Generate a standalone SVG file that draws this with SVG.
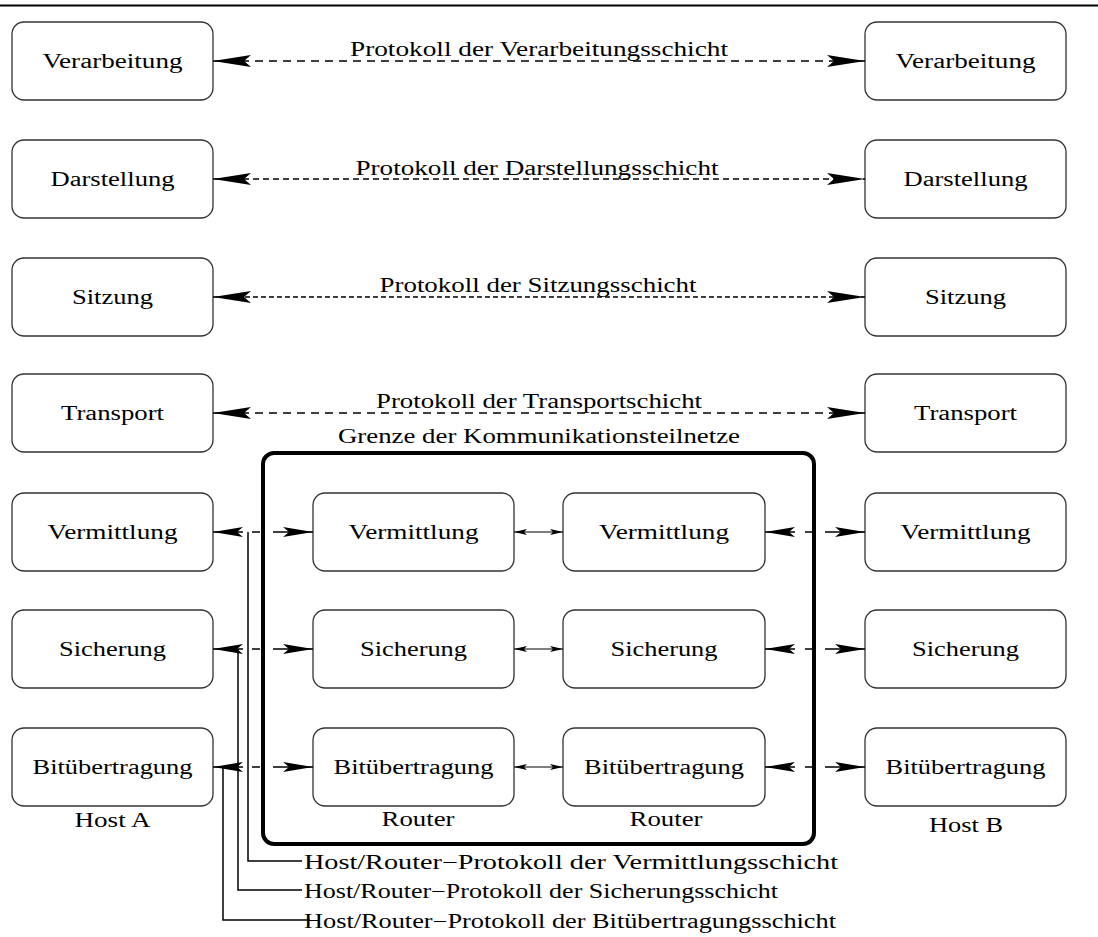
<svg xmlns="http://www.w3.org/2000/svg" width="1098" height="937" viewBox="0 0 1098 937">
  <defs>
    <style>
      .box { fill: #ffffff; stroke: #333333; stroke-width: 1.3; }
      .lbl { font-family: "Liberation Serif", "Times New Roman", serif; font-size: 20px; fill: #000000; }
      .mid { text-anchor: middle; }
      .proto { fill: none; stroke: #000000; stroke-width: 1.5; stroke-dasharray: 8 6; }
      .proto2 { fill: none; stroke: #000000; stroke-width: 1.5; stroke-dasharray: 6 4; }
      .proto3 { fill: none; stroke: #000000; stroke-width: 1.5; stroke-dasharray: 5 3; }
      .hop { fill: none; stroke: #000000; stroke-width: 1.5; }
      .peer { fill: none; stroke: #000000; stroke-width: 1.1; }
      .lead { fill: none; stroke: #000000; stroke-width: 1.5; }
    </style>
    <!-- notched filled arrowheads: large, medium, small -->
    <marker id="ahL" markerUnits="userSpaceOnUse" markerWidth="40" markerHeight="14" refX="0" refY="0" viewBox="-40 -7 40 14" orient="auto-start-reverse" overflow="visible">
      <path d="M0,0 L-38,-6 L-31,0 L-38,6 Z" fill="#000000"/>
    </marker>
    <marker id="ahM" markerUnits="userSpaceOnUse" markerWidth="32" markerHeight="12" refX="0" refY="0" viewBox="-32 -6 32 12" orient="auto-start-reverse" overflow="visible">
      <path d="M0,0 L-30,-5 L-24,0 L-30,5 Z" fill="#000000"/>
    </marker>
    <marker id="ahS" markerUnits="userSpaceOnUse" markerWidth="14" markerHeight="8" refX="0" refY="0" viewBox="-14 -4 14 8" orient="auto-start-reverse" overflow="visible">
      <path d="M0,0 L-13,-3 L-10,0 L-13,3 Z" fill="#000000"/>
    </marker>
  </defs>

  <rect x="0" y="0" width="1098" height="937" fill="#ffffff"/>
  <line x1="0" y1="5.5" x2="1098" y2="5.5" stroke="#000000" stroke-width="2"/>

  <!-- communication subnet boundary -->
  <g id="subnet">
    <rect x="263" y="453" width="551" height="391" rx="11" ry="11" fill="none" stroke="#000000" stroke-width="4"/>
    <text class="lbl mid" x="539" y="443" textLength="402" lengthAdjust="spacingAndGlyphs">Grenze der Kommunikationsteilnetze</text>
  </g>

  <!-- Host A stack -->
  <g id="hostA">
    <g id="a-verarbeitung"><rect class="box" x="12" y="22" width="201" height="78" rx="12"/><text class="lbl mid" x="112.5" y="68" textLength="140" lengthAdjust="spacingAndGlyphs">Verarbeitung</text></g>
    <g id="a-darstellung"><rect class="box" x="12" y="140" width="201" height="78" rx="12"/><text class="lbl mid" x="112.5" y="186" textLength="124" lengthAdjust="spacingAndGlyphs">Darstellung</text></g>
    <g id="a-sitzung"><rect class="box" x="12" y="258" width="201" height="78" rx="12"/><text class="lbl mid" x="112.5" y="304" textLength="81" lengthAdjust="spacingAndGlyphs">Sitzung</text></g>
    <g id="a-transport"><rect class="box" x="12" y="374" width="201" height="78" rx="12"/><text class="lbl mid" x="112.5" y="420" textLength="103" lengthAdjust="spacingAndGlyphs">Transport</text></g>
    <g id="a-vermittlung"><rect class="box" x="12" y="493" width="201" height="78" rx="12"/><text class="lbl mid" x="112.5" y="539" textLength="130" lengthAdjust="spacingAndGlyphs">Vermittlung</text></g>
    <g id="a-sicherung"><rect class="box" x="12" y="610" width="201" height="78" rx="12"/><text class="lbl mid" x="112.5" y="656" textLength="107" lengthAdjust="spacingAndGlyphs">Sicherung</text></g>
    <g id="a-bit"><rect class="box" x="12" y="728" width="201" height="78" rx="12"/><text class="lbl mid" x="112.5" y="774" textLength="160" lengthAdjust="spacingAndGlyphs">Bitübertragung</text></g>
    <text class="lbl mid" x="112.5" y="827" textLength="76" lengthAdjust="spacingAndGlyphs">Host A</text>
  </g>

  <!-- first router -->
  <g id="router1">
    <g id="r1-vermittlung"><rect class="box" x="313" y="493" width="201" height="78" rx="12"/><text class="lbl mid" x="413.5" y="539" textLength="130" lengthAdjust="spacingAndGlyphs">Vermittlung</text></g>
    <g id="r1-sicherung"><rect class="box" x="313" y="610" width="201" height="78" rx="12"/><text class="lbl mid" x="413.5" y="656" textLength="107" lengthAdjust="spacingAndGlyphs">Sicherung</text></g>
    <g id="r1-bit"><rect class="box" x="313" y="728" width="201" height="78" rx="12"/><text class="lbl mid" x="413.5" y="774" textLength="160" lengthAdjust="spacingAndGlyphs">Bitübertragung</text></g>
    <text class="lbl mid" x="418" y="826" textLength="73" lengthAdjust="spacingAndGlyphs">Router</text>
  </g>

  <!-- second router -->
  <g id="router2">
    <g id="r2-vermittlung"><rect class="box" x="563" y="493" width="202" height="78" rx="12"/><text class="lbl mid" x="664" y="539" textLength="130" lengthAdjust="spacingAndGlyphs">Vermittlung</text></g>
    <g id="r2-sicherung"><rect class="box" x="563" y="610" width="202" height="78" rx="12"/><text class="lbl mid" x="664" y="656" textLength="107" lengthAdjust="spacingAndGlyphs">Sicherung</text></g>
    <g id="r2-bit"><rect class="box" x="563" y="728" width="202" height="78" rx="12"/><text class="lbl mid" x="664" y="774" textLength="160" lengthAdjust="spacingAndGlyphs">Bitübertragung</text></g>
    <text class="lbl mid" x="666" y="826" textLength="73" lengthAdjust="spacingAndGlyphs">Router</text>
  </g>

  <!-- Host B stack -->
  <g id="hostB">
    <g id="b-verarbeitung"><rect class="box" x="865" y="22" width="201" height="78" rx="12"/><text class="lbl mid" x="965.5" y="68" textLength="140" lengthAdjust="spacingAndGlyphs">Verarbeitung</text></g>
    <g id="b-darstellung"><rect class="box" x="865" y="140" width="201" height="78" rx="12"/><text class="lbl mid" x="965.5" y="186" textLength="124" lengthAdjust="spacingAndGlyphs">Darstellung</text></g>
    <g id="b-sitzung"><rect class="box" x="865" y="258" width="201" height="78" rx="12"/><text class="lbl mid" x="965.5" y="304" textLength="81" lengthAdjust="spacingAndGlyphs">Sitzung</text></g>
    <g id="b-transport"><rect class="box" x="865" y="374" width="201" height="78" rx="12"/><text class="lbl mid" x="965.5" y="420" textLength="103" lengthAdjust="spacingAndGlyphs">Transport</text></g>
    <g id="b-vermittlung"><rect class="box" x="865" y="493" width="201" height="78" rx="12"/><text class="lbl mid" x="965.5" y="539" textLength="130" lengthAdjust="spacingAndGlyphs">Vermittlung</text></g>
    <g id="b-sicherung"><rect class="box" x="865" y="610" width="201" height="78" rx="12"/><text class="lbl mid" x="965.5" y="656" textLength="107" lengthAdjust="spacingAndGlyphs">Sicherung</text></g>
    <g id="b-bit"><rect class="box" x="865" y="728" width="201" height="78" rx="12"/><text class="lbl mid" x="965.5" y="774" textLength="160" lengthAdjust="spacingAndGlyphs">Bitübertragung</text></g>
    <text class="lbl mid" x="966" y="832" textLength="74" lengthAdjust="spacingAndGlyphs">Host B</text>
  </g>

  <!-- connectors -->
  <g id="connectors">
    <!-- end-to-end peer protocols -->
    <path class="proto" d="M213,61 H865" marker-start="url(#ahL)" marker-end="url(#ahL)"/>
    <path class="proto2" d="M213,179 H865" marker-start="url(#ahL)" marker-end="url(#ahL)"/>
    <path class="proto3" d="M213,297 H865" marker-start="url(#ahL)" marker-end="url(#ahL)"/>
    <path class="proto" d="M213,413 H865" marker-start="url(#ahL)" marker-end="url(#ahL)"/>

    <!-- host to router hops -->
    <path class="hop" d="M213,532 H313" stroke-dasharray="30 9 8 13 40 100" marker-start="url(#ahM)" marker-end="url(#ahM)"/>
    <path class="hop" d="M213,649 H313" stroke-dasharray="30 9 8 13 40 100" marker-start="url(#ahM)" marker-end="url(#ahM)"/>
    <path class="hop" d="M213,767 H313" stroke-dasharray="30 9 8 13 40 100" marker-start="url(#ahM)" marker-end="url(#ahM)"/>
    <path class="hop" d="M765,532 H865" stroke-dasharray="30 10 7 13 40 100" marker-start="url(#ahM)" marker-end="url(#ahM)"/>
    <path class="hop" d="M765,649 H865" stroke-dasharray="30 10 7 13 40 100" marker-start="url(#ahM)" marker-end="url(#ahM)"/>
    <path class="hop" d="M765,767 H865" stroke-dasharray="30 10 7 13 40 100" marker-start="url(#ahM)" marker-end="url(#ahM)"/>

    <!-- router to router -->
    <path class="peer" d="M514,532 H563" marker-start="url(#ahS)" marker-end="url(#ahS)"/>
    <path class="peer" d="M514,649 H563" marker-start="url(#ahS)" marker-end="url(#ahS)"/>
    <path class="peer" d="M514,767 H563" marker-start="url(#ahS)" marker-end="url(#ahS)"/>

    <!-- leader lines to the host/router protocol notes -->
    <path class="lead" d="M248,532 V861 H302"/>
    <path class="lead" d="M238,649 V890 H302"/>
    <path class="lead" d="M223,767 V920 H310"/>
  </g>

  <!-- protocol labels -->
  <g id="labels">
    <text class="lbl mid" x="539" y="56" textLength="378" lengthAdjust="spacingAndGlyphs">Protokoll der Verarbeitungsschicht</text>
    <text class="lbl mid" x="537" y="175" textLength="363" lengthAdjust="spacingAndGlyphs">Protokoll der Darstellungsschicht</text>
    <text class="lbl mid" x="538" y="292" textLength="317" lengthAdjust="spacingAndGlyphs">Protokoll der Sitzungsschicht</text>
    <text class="lbl mid" x="539" y="408" textLength="326" lengthAdjust="spacingAndGlyphs">Protokoll der Transportschicht</text>
    <text class="lbl" x="304" y="869" textLength="534" lengthAdjust="spacingAndGlyphs">Host/Router−Protokoll der Vermittlungsschicht</text>
    <text class="lbl" x="304" y="898" textLength="474" lengthAdjust="spacingAndGlyphs">Host/Router−Protokoll der Sicherungsschicht</text>
    <text class="lbl" x="304" y="928" textLength="532" lengthAdjust="spacingAndGlyphs">Host/Router−Protokoll der Bitübertragungsschicht</text>
  </g>
</svg>
